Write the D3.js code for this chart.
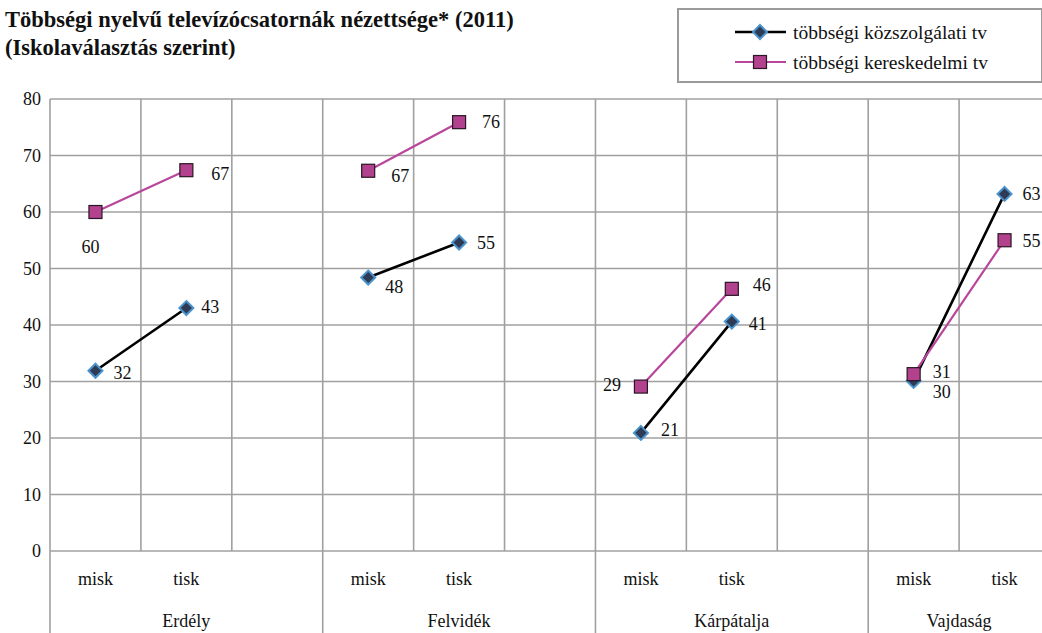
<!DOCTYPE html>
<html>
<head>
<meta charset="utf-8">
<script src="https://cdn.jsdelivr.net/npm/d3@7"></script>
<style>
  body { margin: 0; background: #fff; }
</style>
</head>
<body>
<div id="chart"></div>
<script>
// data
const regions = ["Erdély", "Felvidék", "Kárpátalja", "Vajdaság"];
const schools = ["misk", "tisk"];
const seriesNames = ["többségi közszolgálati tv", "többségi kereskedelmi tv"];
const kozszolgalati = [31.9, 43.0, 48.4, 54.6, 20.9, 40.6, 30.1, 63.2];
const kereskedelmi = [60.0, 67.4, 67.3, 75.9, 29.1, 46.4, 31.3, 55.0];
const yTicks = [0, 10, 20, 30, 40, 50, 60, 70, 80];

// layout of value labels (text centre relative to marker), one per point
const labelShift = [
  [[27, 2], [24, -1], [26, 9], [27, 0], [29, -3], [26, 2], [28, 11], [27, 0]],
  [[-5, 35], [34, 4], [32, 5], [32, 0], [-29, -2], [30, -4], [28, -2], [27, 0]]
];

const width = 1042, height = 633;
const plotL = 50, plotR = 1050, plotT = 99, plotB = 551;
const serif = "'Liberation Serif', 'DejaVu Serif', serif";

// 11 slots: misk, tisk, blank per region (last region without blank)
const slots = [];
regions.forEach((r, gi) => {
  schools.forEach(s => slots.push({ key: r + "|" + s, region: r, school: s }));
  if (gi < regions.length - 1) slots.push({ key: r + "|blank", region: r, school: null });
});

const x = d3.scaleBand().domain(slots.map(d => d.key)).range([plotL, plotR]);
const y = d3.scaleLinear().domain([0, 80]).range([plotB, plotT]);
const cx = key => x(key) + x.bandwidth() / 2;

const toPoints = vals => {
  const pts = [];
  regions.forEach((r, gi) => {
    schools.forEach((s, si) => pts.push({ key: r + "|" + s, v: vals[gi * 2 + si], i: gi * 2 + si }));
    if (gi < regions.length - 1) pts.push({ key: r + "|blank", v: null });
  });
  return pts;
};

const svg = d3.select("#chart").append("svg")
  .attr("width", width).attr("height", height)
  .style("font-family", serif);

// title
const title = svg.append("text").attr("font-size", 22.5).attr("font-weight", "bold").attr("fill", "#111");
title.append("tspan").attr("x", 5).attr("y", 27).text("Többségi nyelvű televízócsatornák nézettsége* (2011)");
title.append("tspan").attr("x", 5).attr("y", 55).text("(Iskolaválasztás szerint)");

// grid
const grid = svg.append("g").attr("stroke", "#a0a0a0").attr("stroke-width", 1.6);
grid.selectAll("line.h").data(yTicks.slice(1)).join("line")
  .attr("x1", plotL).attr("x2", plotR)
  .attr("y1", d => y(d)).attr("y2", d => y(d));
const bounds = slots.map(d => x(d.key)).concat([plotR]);
grid.selectAll("line.v").data(bounds).join("line")
  .attr("x1", d => d).attr("x2", d => d)
  .attr("y1", plotT)
  .attr("y2", (d, i) => (i % 3 === 0 ? height : plotB));
grid.append("line").attr("x1", plotL).attr("x2", plotR).attr("y1", plotB).attr("y2", plotB);

// y axis labels
svg.append("g").selectAll("text").data(yTicks).join("text")
  .attr("x", 41).attr("y", d => y(d)).attr("dy", "0.35em")
  .attr("text-anchor", "end").attr("font-size", 18).attr("fill", "#111")
  .text(d => d);

// category labels
svg.append("g").selectAll("text").data(slots.filter(d => d.school)).join("text")
  .attr("x", d => cx(d.key)).attr("y", 585)
  .attr("text-anchor", "middle").attr("font-size", 18).attr("fill", "#111")
  .text(d => d.school);
svg.append("g").selectAll("text").data(regions).join("text")
  .attr("x", (d, i) => {
    const a = x(d + "|misk");
    const b = i < regions.length - 1 ? x(d + "|blank") + x.bandwidth() : plotR;
    return (a + b) / 2;
  })
  .attr("y", 627)
  .attr("text-anchor", "middle").attr("font-size", 18).attr("fill", "#111")
  .text(d => d);

const line = d3.line()
  .defined(d => d.v !== null)
  .x(d => cx(d.key))
  .y(d => y(d.v));

const styles = [
  { stroke: "#000", width: 2.6 },
  { stroke: "#b8479c", width: 2.2 }
];
const allSeries = [kozszolgalati, kereskedelmi];

function drawMarker(g, s) {
  if (s === 0) {
    g.append("path")
      .attr("d", "M0,-7 L7,0 L0,7 L-7,0 Z")
      .attr("fill", "#2f3b55").attr("stroke", "#4b93cc").attr("stroke-width", 2);
  } else {
    g.append("rect")
      .attr("x", -6.5).attr("y", -6.5).attr("width", 13).attr("height", 13)
      .attr("fill", "#b2418e").attr("stroke", "#2a1624").attr("stroke-width", 1.2);
  }
}

allSeries.forEach((vals, s) => {
  svg.append("path").datum(toPoints(vals))
    .attr("fill", "none")
    .attr("stroke", styles[s].stroke)
    .attr("stroke-width", styles[s].width)
    .attr("d", line);
});

allSeries.forEach((vals, s) => {
  toPoints(vals).filter(d => d.v !== null).forEach(d => {
    const g = svg.append("g").attr("transform", `translate(${cx(d.key)},${y(d.v)})`);
    drawMarker(g, s);
  });
});

allSeries.forEach((vals, s) => {
  const pts = toPoints(vals).filter(d => d.v !== null);
  svg.append("g").selectAll("text").data(pts).join("text")
    .attr("x", d => cx(d.key) + labelShift[s][d.i][0])
    .attr("y", d => y(d.v) + labelShift[s][d.i][1])
    .attr("dy", "0.35em")
    .attr("text-anchor", "middle").attr("font-size", 18).attr("fill", "#111")
    .text(d => Math.round(d.v));
});

// legend
const legend = svg.append("g");
legend.append("rect")
  .attr("x", 678).attr("y", 9).attr("width", 364).attr("height", 73)
  .attr("fill", "#fff").attr("stroke", "#9a9a9a").attr("stroke-width", 2);
seriesNames.forEach((name, s) => {
  const ly = 32 + s * 30;
  legend.append("line")
    .attr("x1", 735).attr("x2", 786).attr("y1", ly).attr("y2", ly)
    .attr("stroke", styles[s].stroke).attr("stroke-width", styles[s].width);
  drawMarker(legend.append("g").attr("transform", `translate(760,${ly})`), s);
  legend.append("text")
    .attr("x", 793).attr("y", ly).attr("dy", "0.35em")
    .attr("font-size", 19.5).attr("fill", "#111")
    .text(name);
});
</script>
</body>
</html>
